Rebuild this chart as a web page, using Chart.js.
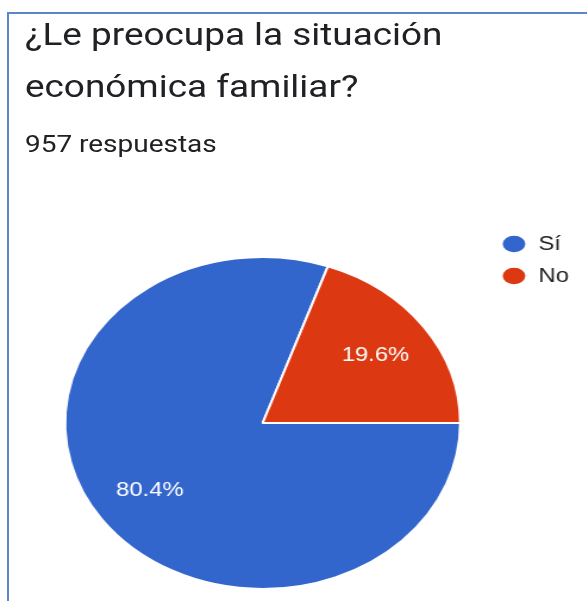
<!DOCTYPE html>
<html>
<head>
<meta charset="utf-8">
<script src="https://cdn.jsdelivr.net/npm/chart.js@4.4.1/dist/chart.umd.min.js"></script>
<style>
  html, body { margin: 0; padding: 0; background: #ffffff; }
  body { width: 587px; height: 601px; overflow: hidden; position: relative; }
  .frame-top { position: absolute; left: 7px; top: 12px; width: 580px; height: 2px; background: #5b87c8; }
  .frame-left { position: absolute; left: 7px; top: 12px; width: 2px; height: 589px; background: #5b87c8; }
  .stretch { position: absolute; left: 0; top: 0; width: 493px; height: 601px; transform: scaleX(1.19); transform-origin: 0 0; }
  .title { position: absolute; left: 21px; top: 8.5px; font-family: Roboto, sans-serif; font-size: 31px; line-height: 52px; color: #202124; white-space: nowrap; }
  .sub { position: absolute; left: 21px; top: 129px; font-family: Roboto, sans-serif; font-size: 23.5px; line-height: 30px; color: #202124; white-space: nowrap; }
  #c { position: absolute; left: 0; top: 200px; }
</style>
</head>
<body>
<div class="frame-top"></div>
<div class="frame-left"></div>
<div class="stretch">
  <div class="title">¿Le preocupa la situación<br>económica familiar?</div>
  <div class="sub">957 respuestas</div>
  <canvas id="c" width="493" height="430"></canvas>
</div>
<script>
const categories = ['Sí', 'No'];
const responses = [769, 188];
const sliceColors = ['#3366cc', '#dc3912'];

const pctLabels = {
  id: 'pctLabels',
  afterDatasetsDraw(chart) {
    const ctx = chart.ctx;
    const data = chart.data.datasets[0].data;
    const total = data.reduce((a, b) => a + b, 0);
    const meta = chart.getDatasetMeta(0);
    ctx.save();
    ctx.font = '20px "Liberation Sans", Arial, sans-serif';
    ctx.fillStyle = '#ffffff';
    ctx.textAlign = 'center';
    ctx.textBaseline = 'middle';
    meta.data.forEach((arc, i) => {
      const p = arc.getProps(['x', 'y', 'startAngle', 'endAngle', 'outerRadius'], true);
      const mid = (p.startAngle + p.endAngle) / 2;
      const r = p.outerRadius * 0.7;
      const txt = (data[i] / total * 100).toFixed(1) + '%';
      ctx.fillText(txt, p.x + Math.cos(mid) * r, p.y + Math.sin(mid) * r);
    });
    ctx.restore();
  }
};

const chart = new Chart(document.getElementById('c'), {
  type: 'pie',
  data: {
    labels: categories,
    datasets: [{
      data: responses,
      backgroundColor: sliceColors,
      borderColor: '#ffffff',
      borderWidth: 2
    }]
  },
  options: {
    responsive: false,
    animation: false,
    rotation: 90,
    radius: 166,
    layout: { padding: { top: 22, bottom: 6, left: 32, right: 5 } },
    plugins: {
      legend: {
        position: 'right',
        align: 'start',
        labels: {
          usePointStyle: true,
          pointStyle: 'circle',
          boxHeight: 13,
          pointStyleWidth: 21,
          padding: 12,
          color: '#222222',
          font: { family: '"Liberation Sans", Arial, sans-serif', size: 20 }
        }
      },
      tooltip: { enabled: false }
    }
  },
  plugins: [pctLabels]
});
</script>
</body>
</html>
